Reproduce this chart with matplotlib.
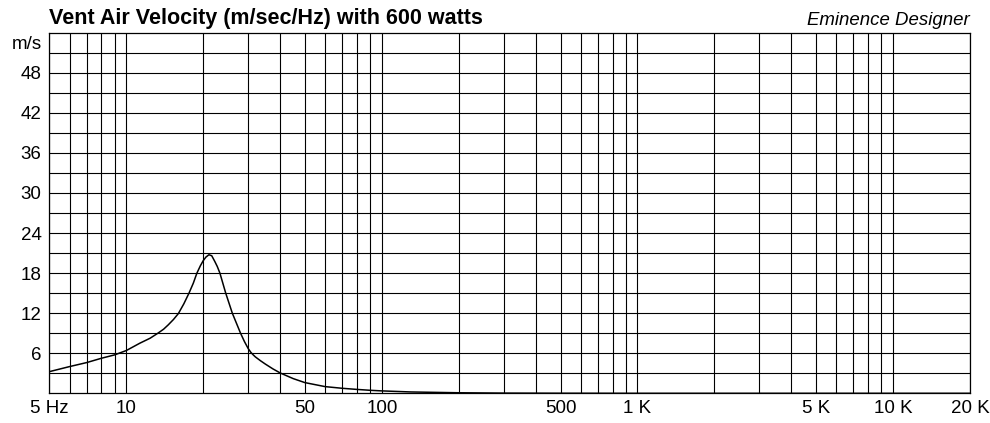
import matplotlib
matplotlib.use("Agg")
import matplotlib.pyplot as plt
from matplotlib.ticker import FixedLocator, NullFormatter, NullLocator
import matplotlib.transforms as mtrans

plt.rcParams['font.family'] = ['Liberation Sans', 'DejaVu Sans']

title = "Vent Air Velocity (m/sec/Hz) with 600 watts"
brand = "Eminence Designer"

freq_hz = [5, 6, 7, 8, 9, 10, 11.3, 12.4, 13.3, 14.0, 14.6, 15.3, 16.0, 16.8,
           17.6, 18.3, 18.9, 19.5, 20.0, 20.5, 21.06, 21.6, 22.2, 22.7, 23.25,
           24.5, 26.0, 28.0, 29.0, 30.0, 30.7, 31.3, 32.0, 33.5, 35, 37.5, 40,
           45, 50, 60, 70, 80, 90, 100, 130, 200, 300, 500, 1000, 20000]
velocity = [3.24, 4.0, 4.6, 5.25, 5.75, 6.4, 7.5, 8.25, 9.0, 9.6, 10.25, 11.05,
            11.95, 13.4, 15.0, 16.5, 18.0, 19.1, 19.85, 20.4, 20.75, 20.6, 19.75,
            19.0, 18.0, 15.0, 12.0, 9.0, 7.75, 6.7, 6.15, 5.8, 5.45, 4.88, 4.38,
            3.65, 3.05, 2.2, 1.6, 1.0, 0.75, 0.58, 0.45, 0.36, 0.2, 0.08, 0.03,
            0.01, 0.0, 0.0]

x_grid = [5, 6, 7, 8, 9, 10, 20, 30, 40, 50, 60, 70, 80, 90, 100,
          200, 300, 400, 500, 600, 700, 800, 900, 1000,
          2000, 3000, 4000, 5000, 6000, 7000, 8000, 9000, 10000, 20000]
x_tick_pos = [5, 10, 50, 100, 500, 1000, 5000, 10000, 20000]
x_tick_lab = ["5 Hz", "10", "50", "100", "500", "1 K", "5 K", "10 K", "20 K"]
y_grid = [3, 6, 9, 12, 15, 18, 21, 24, 27, 30, 33, 36, 39, 42, 45, 48, 51]
y_tick_pos = [6, 12, 18, 24, 30, 36, 42, 48]
y_unit = "m/s"

fig = plt.figure(figsize=(9.9, 4.23), dpi=100)
ax = fig.add_axes([49.3/990, (423-393.3)/423, (970-49.3)/990, (393.3-32.7)/423])
ax.set_xscale('log')
ax.set_xlim(5, 20000)
ax.set_ylim(0, 54)

for xv in x_grid:
    ax.axvline(xv, color='black', lw=0.8, zorder=1)
for yv in y_grid:
    ax.axhline(yv, color='black', lw=0.8, zorder=1)

ax.plot(freq_hz, velocity, color='black', lw=1.1, zorder=3,
        solid_joinstyle='round', solid_capstyle='round')

ax.xaxis.set_major_locator(FixedLocator(x_tick_pos))
ax.xaxis.set_minor_locator(NullLocator())
ax.set_xticklabels(x_tick_lab)
ax.xaxis.set_minor_formatter(NullFormatter())
ax.set_yticks(y_tick_pos)
ax.set_yticklabels([str(v) for v in y_tick_pos])
ax.tick_params(axis='both', length=0, labelsize=13.5, colors='black')
ax.tick_params(axis='x', pad=5)
ax.tick_params(axis='y', pad=5.5)

for s in ax.spines.values():
    s.set_color('black')
    s.set_linewidth(0.9)

trans = mtrans.blended_transform_factory(ax.transAxes, ax.transData)
ax.text(-7.6/921, 52.2, y_unit, transform=trans, ha='right', va='center', fontsize=13.5)

fig.text(49.3/990, 1-24/423, title, ha='left', va='baseline', fontsize=15.5, fontweight='bold')
fig.text(970/990, 1-25/423, brand, ha='right', va='baseline', fontsize=13.4, style='italic')

fig.savefig("out.png", dpi=100)
